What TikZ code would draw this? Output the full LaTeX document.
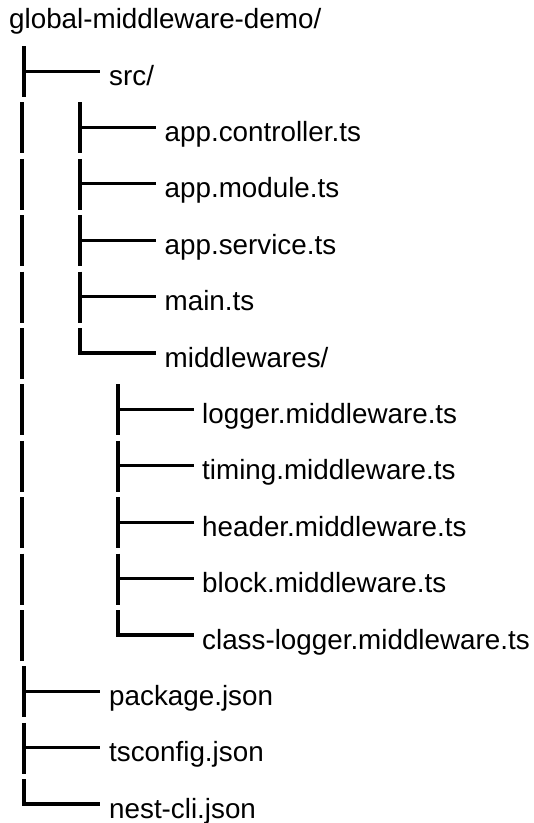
\documentclass[tikz,border=0pt]{standalone}
\usepackage{fontspec}
\setmainfont{Liberation Sans}
\tikzset{
  lbl/.style={anchor=base west, inner sep=0pt, font=\fontsize{27.8}{30}\selectfont},
  vline/.style={line width=4pt},
  hline/.style={line width=3pt},
  elbow/.style={line width=3.5pt, line join=miter},
}
\begin{document}
\begin{tikzpicture}[x=1pt,y=-1pt]
\useasboundingbox (0,0) rectangle (534,823);
% labels
\node[lbl] (root) at (9,28) {global-middleware-demo/};
\node[lbl] (src) at (109,85) {src/};
\node[lbl] (ctrl) at (164.5,141.4) {app.controller.ts};
\node[lbl] (mod) at (164.5,197.8) {app.module.ts};
\node[lbl] (svc) at (164.5,254.2) {app.service.ts};
\node[lbl] (main) at (164.5,310.6) {main.ts};
\node[lbl] (mw) at (164.5,367) {middlewares/};
\node[lbl] (logger) at (202,423.4) {logger.middleware.ts};
\node[lbl] (timing) at (202,479.8) {timing.middleware.ts};
\node[lbl] (header) at (202,536.2) {header.middleware.ts};
\node[lbl] (block) at (202,592.6) {block.middleware.ts};
\node[lbl] (classlog) at (202,649) {class-logger.middleware.ts};
\node[lbl] (pkg) at (109,705.4) {package.json};
\node[lbl] (tsc) at (109,761.8) {tsconfig.json};
\node[lbl] (nest) at (109,818.2) {nest-cli.json};
% tee branches: row / x
\foreach \k/\x in {0/24, 11/24, 12/24, 1/80, 2/80, 3/80, 4/80, 6/118, 7/118, 8/118, 9/118}{
  \pgfmathsetmacro\yy{71+56.4*\k}
  \draw[vline] (\x,\yy-25) -- (\x,\yy+26);
  \draw[hline] (\x,\yy) -- (\x+76,\yy);
}
% last-child elbows
\foreach \k/\x in {13/24, 5/80, 10/118}{
  \pgfmathsetmacro\yy{71+56.4*\k}
  \draw[elbow] (\x,\yy-25) -- (\x,\yy) -- (\x+76,\yy);
}
% continuation bars
\foreach \k in {1,...,10}{
  \pgfmathsetmacro\yy{71+56.4*\k}
  \draw[vline] (22,\yy-25) -- (22,\yy+26);
}
\end{tikzpicture}
\end{document}
